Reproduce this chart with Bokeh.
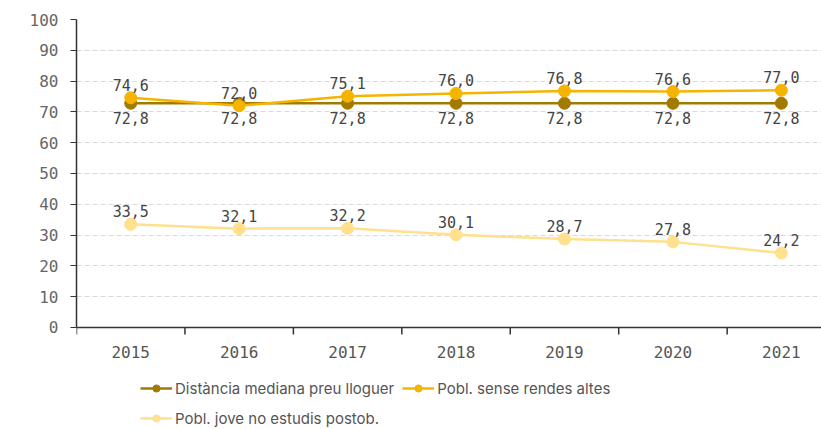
from bokeh.plotting import figure
from bokeh.models import (Range1d, FixedTicker, Legend, LegendItem,
                          ColumnDataSource, Span)
from bokeh.embed import file_html
from bokeh.resources import INLINE
from bokeh.core.properties import value

years = [2015, 2016, 2017, 2018, 2019, 2020, 2021]
distancia = [72.8, 72.8, 72.8, 72.8, 72.8, 72.8, 72.8]
sense_rendes = [74.6, 72.0, 75.1, 76.0, 76.8, 76.6, 77.0]
jove = [33.5, 32.1, 32.2, 30.1, 28.7, 27.8, 24.2]
series_names = ["Distància mediana preu lloguer", "Pobl. sense rendes altes",
                "Pobl. jove no estudis postob."]
y_ticks = [0, 10, 20, 30, 40, 50, 60, 70, 80, 90, 100]
year_labels = [str(y) for y in years]

colors = ["#A37A00", "#F5B400", "#FFE08C"]
NUM_FONT = "DejaVu Sans Mono"
TXT_FONT = "Inter"

# frame extends below y=0 so that the x labels and legend live inside it
FRAME_H = 410
Y_MIN = -33.12
px_per_unit = FRAME_H / (100 - Y_MIN)

p = figure(frame_width=745, frame_height=FRAME_H, output_backend="svg",
           toolbar_location=None, x_axis_location=None,
           x_range=Range1d(2014.5, 2021.37), y_range=Range1d(Y_MIN, 100),
           min_border_left=76, min_border_right=0, min_border_top=19,
           min_border_bottom=0)
p.outline_line_color = None
p.background_fill_color = "white"
p.border_fill_color = "white"

ya = p.yaxis[0]
ya.ticker = FixedTicker(ticks=y_ticks)
ya.bounds = (0, 100)
ya.axis_line_color = "#333333"
ya.axis_line_width = 1.5
ya.major_tick_line_color = "#333333"
ya.major_tick_out = 6
ya.major_tick_in = 0
ya.minor_tick_line_color = None
ya.major_label_standoff = 12
ya.major_label_text_font = NUM_FONT
ya.major_label_text_font_size = "16px"
ya.major_label_text_color = "#666666"

p.ygrid.ticker = FixedTicker(ticks=y_ticks[1:])
p.ygrid.grid_line_color = "#d9d9d9"
p.ygrid.grid_line_dash = "5 3"
p.xgrid.visible = False

# x axis line, tick marks at category boundaries, year labels at centres
p.add_layout(Span(location=0, dimension="width", line_color="#333333",
                  line_width=1.5))
bounds = [y - 0.5 for y in years]
tick_len = 7 / px_per_unit
p.segment(x0=bounds, y0=[0] * len(bounds), x1=bounds,
          y1=[-tick_len] * len(bounds), line_color="#333333", line_width=1.5)
p.text(x=years, y=[0] * len(years), text=year_labels, y_offset=25,
       text_align="center", text_baseline="middle",
       text_font=value(NUM_FONT), text_font_size="16px", text_color="#555555")

def fmt(v):
    return f"{v:.1f}".replace(".", ",")

items = []
all_series = [distancia, sense_rendes, jove]
for name, vals, col in zip(series_names, all_series, colors):
    src = ColumnDataSource(dict(x=years, y=vals))
    lr = p.line("x", "y", source=src, line_color=col, line_width=2.5)
    cr = p.scatter("x", "y", source=src, size=12, fill_color=col, line_color=col)
    items.append(LegendItem(label=name, renderers=[lr, cr]))

src_d = ColumnDataSource(dict(x=years, y=distancia, lab=[fmt(v) for v in distancia]))
p.text("x", "y", text="lab", source=src_d, text_align="center", text_baseline="top",
       y_offset=9, text_font=value(NUM_FONT), text_font_size="15px", text_color="#444444")
for vals in [sense_rendes, jove]:
    s = ColumnDataSource(dict(x=years, y=vals, lab=[fmt(v) for v in vals]))
    p.text("x", "y", text="lab", source=s, text_align="center", text_baseline="bottom",
           y_offset=-7, text_font=value(NUM_FONT), text_font_size="15px", text_color="#444444")

legend = Legend(items=items, orientation="horizontal", ncols=2,
                location=(64, 0), margin=0, padding=0, spacing=8,
                glyph_width=32, glyph_height=18, label_standoff=3,
                label_height=22, label_text_font=TXT_FONT,
                label_text_font_size="15px", label_text_color="#555555",
                border_line_color=None, background_fill_alpha=0)
p.add_layout(legend, "center")

open("out.html", "w").write(file_html(p, INLINE))
